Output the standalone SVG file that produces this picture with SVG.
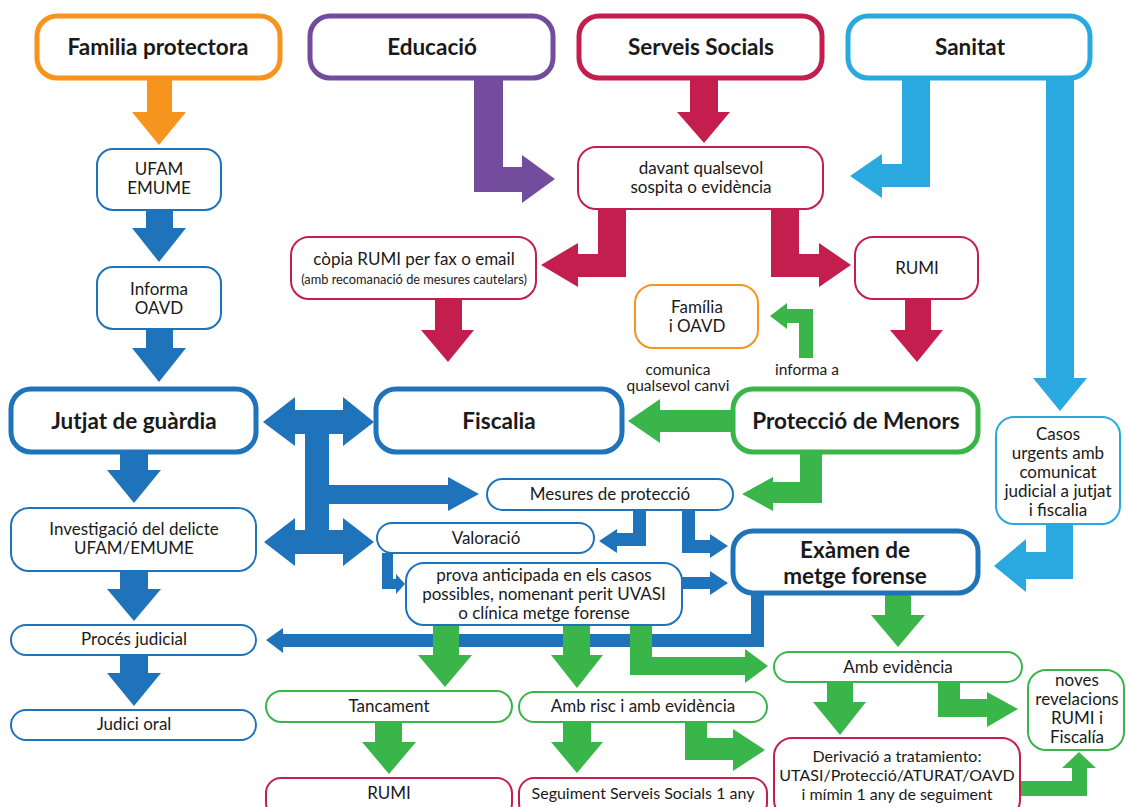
<svg xmlns="http://www.w3.org/2000/svg" width="1126" height="807" viewBox="0 0 1126 807">
<style>
.t{font-family:Lato,"Noto Sans",sans-serif;fill:#1a1a1a;text-anchor:middle}
.h{font-weight:700;font-size:22.5px}
.n{font-size:17px}
.n6{font-size:16px}
.s{font-size:12.8px}
.m{font-size:15.5px}
.k{fill:#fff;stroke-width:5}
.b{fill:#fff;stroke-width:2}
.or{stroke:#F7941D}.pu{stroke:#744C9E}.cr{stroke:#C41E4E}.lb{stroke:#29A9E0}.bl{stroke:#1F73BA}.gr{stroke:#3AB54A}
.fo{fill:#F7941D}.fp{fill:#744C9E}.fc{fill:#C41E4E}.fl{fill:#29A9E0}.fb{fill:#1F73BA}.fg{fill:#3AB54A}
</style>
<rect width="1126" height="807" fill="#fff"/>
<g id="connectors">
<path class="fo" d="M147,78H172V112H186L159,145L132,112H147Z"/>
<path class="fp" d="M474,78H503V167H522V155L555,179L522,203V192H474Z"/>
<path class="fc" d="M690,78H718V112H730L704,143L677,112H690Z"/>
<path class="fl" d="M902,78H930V187H882V198L850,176L882,154V164H902Z"/>
<path class="fl" d="M1046,78H1074V378H1087L1060,411L1033,378H1046Z"/>
<path class="fc" d="M626,209V277H578V287L541,265L578,243V254H598V209Z"/>
<path class="fc" d="M771,209H799V254H819V243L851,265L819,287V277H771Z"/>
<path class="fc" d="M905,299H931V330H943L917,362L890,330H905Z"/>
<path class="fc" d="M435,299H462V330H474L448,362L421,330H435Z"/>
<path class="fb" d="M146,210H173V228H186L159,262L132,228H146Z"/>
<path class="fb" d="M146,329H173V348H186L159,382L132,348H146Z"/>
<path class="fb" d="M120,452H148V470H161L134,503L107,470H120Z"/>
<path class="fb" d="M120,571H148V589H161L134,621L107,589H120Z"/>
<path class="fb" d="M120,655H148V673H161L134,706L107,673H120Z"/>
<path class="fg" d="M799,358V323H787V329L770,316L787,303V309H813V358Z"/>
<path class="fg" d="M733,410H660V399L628,421L660,443V432H733Z"/>
<path class="fg" d="M800,452H822V503H773V511L742,494L773,477V482H800Z"/>
<path class="fl" d="M1046,524H1073V579H1026V592L994,566L1026,539V552H1046Z"/>
<path class="fb" d="M263,422L295,397V410H343V397L374,422L343,446V434H329V485H448V477L479,494L448,511V504H329V530H343V518L374,542L343,566V554H295V566L264,542L295,518V530H305V434H295V446Z"/>
<path class="fb" d="M633,510H646V546H617V553L599,541L617,529V533H633Z"/>
<path class="fb" d="M682,510H695V540H710V534L728,546L710,558V553H682Z"/>
<path class="fb" d="M382,553H393V579H396V574L405,584L396,594V589H382Z"/>
<path class="fb" d="M682,577H710V571L728,583L710,595V589H682Z"/>
<path class="fb" d="M751,593H764V647H283V653L266,640L283,628V634H751Z"/>
<path class="fg" d="M433,625H459V655H472L445,687L418,655H433Z"/>
<path class="fg" d="M563,625H590V655H603L577,688L551,655H563Z"/>
<path class="fg" d="M630,625H652V657H745V649L768,666L745,683V675H630Z"/>
<path class="fg" d="M885,593H911V615H925L898,647L871,615H885Z"/>
<path class="fg" d="M375,722H402V742H416L389,774L362,742H375Z"/>
<path class="fg" d="M563,722H591V742H603L577,773L551,742H563Z"/>
<path class="fg" d="M685,722H707V738H733V729L765,750L733,771V760H685Z"/>
<path class="fg" d="M827,682H853V702H866L840,735L813,702H827Z"/>
<path class="fg" d="M938,682H960V699H987V692L1018,709L987,727V717H938Z"/>
<path class="fg" d="M1020,781H1072V768H1062L1079,752L1096,768H1087V796H1020Z"/>
</g>
<g id="familia"><rect class="k or" x="37" y="16" width="243" height="62" rx="20"/><text class="t h" x="158" y="55">Familia protectora</text></g>
<g id="educacio"><rect class="k pu" x="310" y="16" width="243" height="62" rx="20"/><text class="t h" x="432" y="55">Educació</text></g>
<g id="serveis"><rect class="k cr" x="579" y="16" width="243" height="62" rx="20"/><text class="t h" x="701" y="55">Serveis Socials</text></g>
<g id="sanitat"><rect class="k lb" x="848" y="16" width="242" height="62" rx="20"/><text class="t h" x="970" y="55">Sanitat</text></g>
<g id="ufam"><rect class="b bl" x="97" y="149" width="124" height="61" rx="16"/><text class="t n" x="159" y="175">UFAM</text><text class="t n" x="159" y="194">EMUME</text></g>
<g id="informa"><rect class="b bl" x="97" y="267" width="124" height="62" rx="16"/><text class="t n" x="159" y="295">Informa</text><text class="t n" x="159" y="314">OAVD</text></g>
<g id="davant"><rect class="b cr" x="578" y="147" width="245" height="62" rx="18"/><text class="t n" x="701" y="174">davant qualsevol</text><text class="t n" x="701" y="193">sospita o evidència</text></g>
<g id="copia"><rect class="b cr" x="291" y="237" width="245" height="62" rx="18"/><text class="t n" x="414" y="265">còpia RUMI per fax o email</text><text class="t s" x="414" y="284">(amb recomanació de mesures cautelars)</text></g>
<g id="rumi1"><rect class="b cr" x="855" y="237" width="123" height="62" rx="18"/><text class="t n" x="917" y="274">RUMI</text></g>
<g id="familia-oavd"><rect class="b or" x="635" y="285" width="123" height="63" rx="18"/><text class="t n" x="697" y="313">Família</text><text class="t n" x="697" y="332">i OAVD</text></g>
<g id="labels"><text class="t m" x="678" y="375">comunica</text><text class="t m" x="678" y="391">qualsevol canvi</text><text class="t m" x="807" y="375">informa a</text></g>
<g id="jutjat"><rect class="k bl" x="11" y="389" width="245" height="63" rx="20"/><text class="t h" x="134" y="429">Jutjat de guàrdia</text></g>
<g id="fiscalia"><rect class="k bl" x="376" y="389" width="246" height="63" rx="20"/><text class="t h" x="499" y="429">Fiscalia</text></g>
<g id="proteccio"><rect class="k gr" x="733" y="389" width="245" height="63" rx="20"/><text class="t h" x="856" y="429">Protecció de Menors</text></g>
<g id="casos"><rect class="b lb" x="996" y="417" width="124" height="107" rx="18"/><text class="t n" x="1058" y="440">Casos</text><text class="t n" x="1058" y="459">urgents amb</text><text class="t n" x="1058" y="478">comunicat</text><text class="t n" x="1058" y="497">judicial a jutjat</text><text class="t n" x="1058" y="516">i fiscalia</text></g>
<g id="mesures"><rect class="b bl" x="487" y="479" width="246" height="31" rx="15.5"/><text class="t n" x="610" y="500">Mesures de protecció</text></g>
<g id="valoracio"><rect class="b bl" x="377" y="523" width="217" height="30" rx="15"/><text class="t n" x="486" y="544">Valoració</text></g>
<g id="prova"><rect class="b bl" x="406" y="563" width="276" height="62" rx="18"/><text class="t n" x="544" y="581">prova anticipada en els casos</text><text class="t n" x="544" y="600">possibles, nomenant perit UVASI</text><text class="t n" x="544" y="619">o clínica metge forense</text></g>
<g id="examen"><rect class="k bl" x="733" y="531" width="245" height="62" rx="20"/><text class="t h" x="855" y="558">Exàmen de</text><text class="t h" x="855" y="584">metge forense</text></g>
<g id="investigacio"><rect class="b bl" x="11" y="508" width="245" height="63" rx="18"/><text class="t n" x="134" y="535">Investigació del delicte</text><text class="t n" x="134" y="554">UFAM/EMUME</text></g>
<g id="proces"><rect class="b bl" x="11" y="625" width="245" height="30" rx="15"/><text class="t n" x="134" y="645">Procés judicial</text></g>
<g id="judici"><rect class="b bl" x="11" y="710" width="245" height="30" rx="15"/><text class="t n" x="134" y="730">Judici oral</text></g>
<g id="tancament"><rect class="b gr" x="266" y="691" width="246" height="31" rx="15.5"/><text class="t n" x="389" y="712">Tancament</text></g>
<g id="ambrisc"><rect class="b gr" x="519" y="692" width="248" height="30" rx="15"/><text class="t n" x="643" y="712">Amb risc i amb evidència</text></g>
<g id="ambevidencia"><rect class="b gr" x="774" y="652" width="248" height="30" rx="15"/><text class="t n" x="898" y="673">Amb evidència</text></g>
<g id="noves"><rect class="b gr" x="1028" y="670" width="96" height="80" rx="18"/><text class="t n" x="1077" y="686">noves</text><text class="t n" x="1077" y="705">revelacions</text><text class="t n" x="1077" y="724">RUMI i</text><text class="t n" x="1077" y="743">Fiscalía</text></g>
<g id="rumi2"><rect class="b cr" x="266" y="778" width="246" height="40" rx="15"/><text class="t n" x="389" y="799">RUMI</text></g>
<g id="seguiment"><rect class="b cr" x="519" y="778" width="248" height="40" rx="15"/><text class="t n6" x="643" y="799">Seguiment Serveis Socials 1 any</text></g>
<g id="derivacio"><rect class="b cr" x="774" y="738" width="246" height="80" rx="18"/><text class="t n6" x="897" y="762">Derivació a tratamiento:</text><text class="t n6" x="897" y="781">UTASI/Protecció/ATURAT/OAVD</text><text class="t n6" x="897" y="800">i mímin 1 any de seguiment</text></g>
</svg>
